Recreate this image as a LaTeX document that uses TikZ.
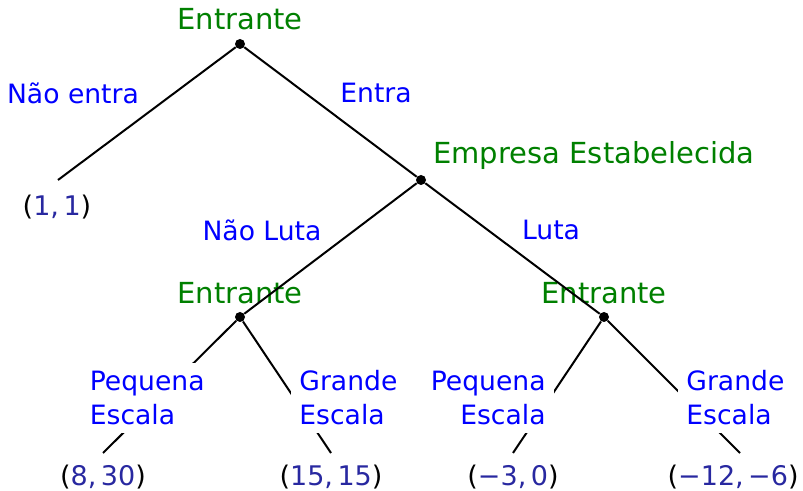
\documentclass[tikz,border=0pt]{standalone}
\usepackage{fontspec}
\setmainfont{DejaVu Sans}
\definecolor{movegreen}{RGB}{0,128,0}
\definecolor{actblue}{RGB}{0,0,255}
\definecolor{paynavy}{RGB}{40,40,160}
\newcommand{\payoff}[2]{(\textcolor{paynavy}{#1,\thinspace#2})}

\begin{document}
\begin{tikzpicture}[x=0.5pt, y=-0.5pt,
    every node/.append style={font=\fontsize{13.3}{17}\selectfont},
    dec/.style={circle, fill=black, minimum size=5pt, inner sep=0pt},
    player/.style={text=movegreen, inner sep=1pt, font=\fontsize{14.5}{17}\selectfont},
    act/.style={text=actblue, inner sep=1pt},
    actbox/.style={text=actblue, fill=white, inner sep=4pt},
    pay/.style={inner sep=1pt, font=\fontsize{13.5}{17}\selectfont},
    branch/.style={black, line width=1pt}]
  \useasboundingbox (0,0) rectangle (803,491);

  % ---------------- decision nodes ----------------
  \node[dec] (root) at (240,44)  {};
  \node[dec] (firm) at (421,180) {};
  \node[dec] (entL) at (240,317) {};
  \node[dec] (entR) at (604,317) {};
  \node[player] at (240,19) {Entrante};
  \node[player, anchor=west] at (431,156) {Empresa Estabelecida};
  \node[player] at (240,293) {Entrante};
  \node[player] at (604,293) {Entrante};

  % ---------------- end points of the branches ----------------
  \coordinate (out) at (58,180);
  \coordinate (lsm) at (103,453);
  \coordinate (lbg) at (331,453);
  \coordinate (rsm) at (513,453);
  \coordinate (rbg) at (740,453);

  \foreach \a/\b in {root/out, root/firm, firm/entL, firm/entR,
                     entL/lsm, entL/lbg, entR/rsm, entR/rbg}
    \draw[branch] (\a) -- (\b);

  % ---------------- moves ----------------
  \node[act] at (73,93)   {Não entra};
  \node[act] at (376,93)  {Entra};
  \node[act] at (262,230) {Não Luta};
  \node[act] at (551,230) {Luta};
  \node[actbox, align=left,  anchor=south east] (lsm-l) at (213,433) {Pequena\\Escala};
  \node[actbox, align=left,  anchor=south west] (lbg-l) at (291,433) {Grande\\Escala};
  \node[actbox, align=right, anchor=south east] (rsm-l) at (554,433) {Pequena\\Escala};
  \node[actbox, align=left,  anchor=south west] (rbg-l) at (678,433) {Grande\\Escala};

  % ---------------- payoffs ----------------
  \node[pay] at (57,207)  {\payoff{1}{1}};
  \node[pay] at (103,477) {\payoff{8}{30}};
  \node[pay] at (331,477) {\payoff{15}{15}};
  \node[pay] at (513,477) {\payoff{−3}{0}};
  \node[pay, anchor=east] at (801,477) {\payoff{−12}{−6}};
\end{tikzpicture}
\end{document}
